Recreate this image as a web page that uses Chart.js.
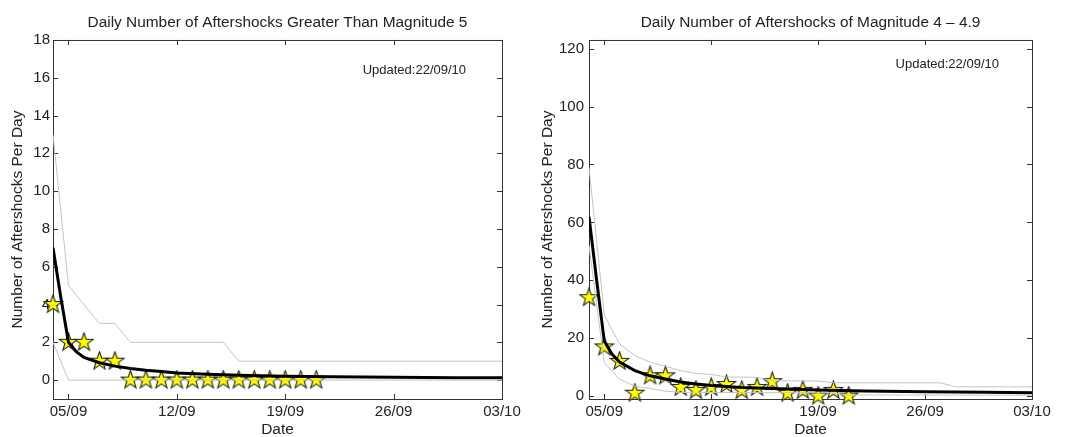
<!DOCTYPE html>
<html>
<head>
<meta charset="utf-8">
<script src="https://cdn.jsdelivr.net/npm/chart.js@4.4.0/dist/chart.umd.min.js"></script>
<style>
body { margin: 0; background: #fff; }
#left { position: absolute; left: 0; top: 0; }
#right { position: absolute; left: 530px; top: 0; }
</style>
</head>
<body>
<canvas id="left" width="530" height="437"></canvas>
<canvas id="right" width="535" height="437"></canvas>
<script>
// x axis: day of month (Sep), 33 = 03/10
const xTickValues = [5, 12, 19, 26, 33];
const xTickLabels = ['05/09', '12/09', '19/09', '26/09', '03/10'];

// observed daily counts
const obsDays = [4, 5, 6, 7, 8, 9, 10, 11, 12, 13, 14, 15, 16, 17, 18, 19, 20, 21];
const countM5 = [4, 2, 2, 1, 1, 0, 0, 0, 0, 0, 0, 0, 0, 0, 0, 0, 0, 0];
const countM4 = [34, 17, 12, 1, 7, 7, 3, 2, 3, 4, 2, 3, 5, 1, 2, 0, 2, 0];

// model forecast rate
const modelDays = [4, 4.5, 5, 5.5, 6, 7, 8, 9, 10, 11, 12, 14, 16, 19, 22, 26, 30, 33];
const modelM5 = [7, 4.4, 2, 1.5, 1.2, 0.92, 0.74, 0.62, 0.52, 0.45, 0.38, 0.31, 0.26, 0.21, 0.18, 0.15, 0.13, 0.12];
const modelM4 = [62, 40, 19, 14.5, 11.8, 8.8, 7, 5.9, 4.9, 4.2, 3.7, 3.0, 2.6, 2.1, 1.8, 1.5, 1.3, 1.2];

// confidence bounds
const upperM5Days = [4, 5, 7, 8, 9, 15, 16, 33];
const upperM5 = [13, 5, 3, 3, 2, 2, 1, 1];
const lowerM5Days = [4, 5, 33];
const lowerM5 = [2, 0, 0];
const upperM4Days = [4, 5, 6, 7, 8, 9, 10, 11, 12, 13, 15, 16, 19, 20, 27, 28, 33];
const upperM4 = [79, 28, 18, 14, 11.7, 10.3, 8.8, 7.8, 7.5, 6.6, 6.5, 5.3, 5.2, 4.6, 4.6, 3.2, 3.2];
const lowerM4Days = [4, 5, 6, 7, 8, 9, 10, 20, 21, 33];
const lowerM4 = [52, 11.5, 5.8, 3.5, 2.6, 1.7, 1.3, 1.1, 0.4, 0.3];

const yTicksM5 = [0, 2, 4, 6, 8, 10, 12, 14, 16, 18];
const yTicksM4 = [0, 20, 40, 60, 80, 100, 120];

Chart.defaults.font.family = '"Liberation Sans", Arial, sans-serif';
Chart.defaults.color = '#222';

function zip(xs, ys) {
    return xs.map((x, i) => ({ x: x, y: ys[i] }));
}

function makeStar(r) {
    const c = document.createElement('canvas');
    const size = Math.ceil(r * 2 + 2);
    c.width = size;
    c.height = size;
    const g = c.getContext('2d');
    g.beginPath();
    for (let i = 0; i < 10; i++) {
        const rad = i % 2 ? r * 0.4 : r;
        const a = -Math.PI / 2 + i * Math.PI / 5;
        g.lineTo(size / 2 + rad * Math.cos(a), size / 2 + rad * Math.sin(a));
    }
    g.closePath();
    g.fillStyle = '#ffff00';
    g.fill();
    g.strokeStyle = '#222';
    g.lineWidth = 1.1;
    g.stroke();
    return c;
}
const star = makeStar(9.5);

// matlab style box with inward ticks + text stamp
const boxPlugin = {
    id: 'box',
    beforeDatasetsDraw(chart) {
        const { ctx, chartArea: a, scales } = chart;
        ctx.save();
        ctx.strokeStyle = '#333';
        ctx.lineWidth = 1;
        ctx.strokeRect(a.left + 0.5, a.top + 0.5, a.right - a.left, a.bottom - a.top);
        ctx.beginPath();
        scales.x.ticks.forEach(t => {
            const px = Math.round(scales.x.getPixelForValue(t.value)) + 0.5;
            ctx.moveTo(px, a.bottom); ctx.lineTo(px, a.bottom - 5);
            ctx.moveTo(px, a.top); ctx.lineTo(px, a.top + 5);
        });
        scales.y.ticks.forEach(t => {
            const py = Math.round(scales.y.getPixelForValue(t.value)) + 0.5;
            ctx.moveTo(a.left, py); ctx.lineTo(a.left + 5, py);
            ctx.moveTo(a.right, py); ctx.lineTo(a.right - 5, py);
        });
        ctx.stroke();
        ctx.restore();
    },
    afterDatasetsDraw(chart, args, opts) {
        if (!opts.text) return;
        const { ctx, scales } = chart;
        ctx.save();
        ctx.font = '13px "Liberation Sans", Arial, sans-serif';
        ctx.fillStyle = '#222';
        ctx.textBaseline = 'middle';
        ctx.fillText(opts.text, scales.x.getPixelForValue(opts.x), scales.y.getPixelForValue(opts.y));
        ctx.restore();
    }
};

function makeChart(id, cfg) {
    new Chart(document.getElementById(id), {
        type: 'line',
        data: {
            datasets: [
                { data: zip(cfg.upperDays, cfg.upper), borderColor: '#c4c4c4', borderWidth: 1, pointRadius: 0, tension: 0 },
                { data: zip(cfg.lowerDays, cfg.lower), borderColor: '#c4c4c4', borderWidth: 1, pointRadius: 0, tension: 0 },
                { data: zip(modelDays, cfg.model), borderColor: '#000', borderWidth: 3, pointRadius: 0, tension: 0 },
                { data: zip(obsDays, cfg.counts), showLine: false, pointStyle: star, pointRadius: 9, clip: false }
            ]
        },
        options: {
            responsive: false,
            animation: false,
            events: [],
            layout: { padding: 0 },
            plugins: {
                legend: { display: false },
                tooltip: { enabled: false },
                title: {
                    display: true,
                    text: cfg.title,
                    fullSize: false,
                    color: '#222',
                    font: { size: 15.4, weight: 'normal', lineHeight: 1.2 },
                    padding: { top: 13.75, bottom: 7.75 }
                },
                box: { text: 'Updated:22/09/10', x: cfg.stampX, y: cfg.stampY }
            },
            scales: {
                x: {
                    type: 'linear',
                    min: 4,
                    max: 33,
                    afterBuildTicks: s => { s.ticks = xTickValues.map(v => ({ value: v })); },
                    afterFit: s => { s.height = 38; s.paddingLeft = 0; s.paddingRight = cfg.padRight; },
                    grid: { display: false, drawTicks: false },
                    border: { display: false },
                    ticks: {
                        padding: 4,
                        maxRotation: 0,
                        autoSkip: false,
                        font: { size: 15 },
                        callback: v => xTickLabels[xTickValues.indexOf(v)]
                    },
                    title: { display: true, text: 'Date', font: { size: 15.5, lineHeight: 1 }, padding: 0 }
                },
                y: {
                    min: cfg.yMin,
                    max: cfg.yMax,
                    afterBuildTicks: s => { s.ticks = cfg.yTicks.map(v => ({ value: v })); },
                    afterFit: s => { s.width = cfg.yWidth; },
                    grid: { display: false, drawTicks: false },
                    border: { display: false },
                    ticks: { padding: cfg.yPad, font: { size: 15 } },
                    title: {
                        display: true,
                        text: 'Number of Aftershocks Per Day',
                        font: { size: 15.5, lineHeight: 1 },
                        padding: { top: cfg.yTitlePad, bottom: 0 }
                    }
                }
            }
        },
        plugins: [boxPlugin]
    });
}

makeChart('left', {
    title: 'Daily Number of Aftershocks Greater Than Magnitude 5',
    counts: countM5, model: modelM5,
    upperDays: upperM5Days, upper: upperM5, lowerDays: lowerM5Days, lower: lowerM5,
    yMin: -1, yMax: 18, yTicks: yTicksM5,
    yWidth: 53, yPad: 3, yTitlePad: 9.75, padRight: 28,
    stampX: 24, stampY: 16.4
});

makeChart('right', {
    title: 'Daily Number of Aftershocks of Magnitude 4 \u2013 4.9',
    counts: countM4, model: modelM4,
    upperDays: upperM4Days, upper: upperM4, lowerDays: lowerM4Days, lower: lowerM4,
    yMin: -1, yMax: 123, yTicks: yTicksM4,
    yWidth: 59, yPad: 5, yTitlePad: 10.25, padRight: 33,
    stampX: 24.07, stampY: 114.5
});
</script>
</body>
</html>
